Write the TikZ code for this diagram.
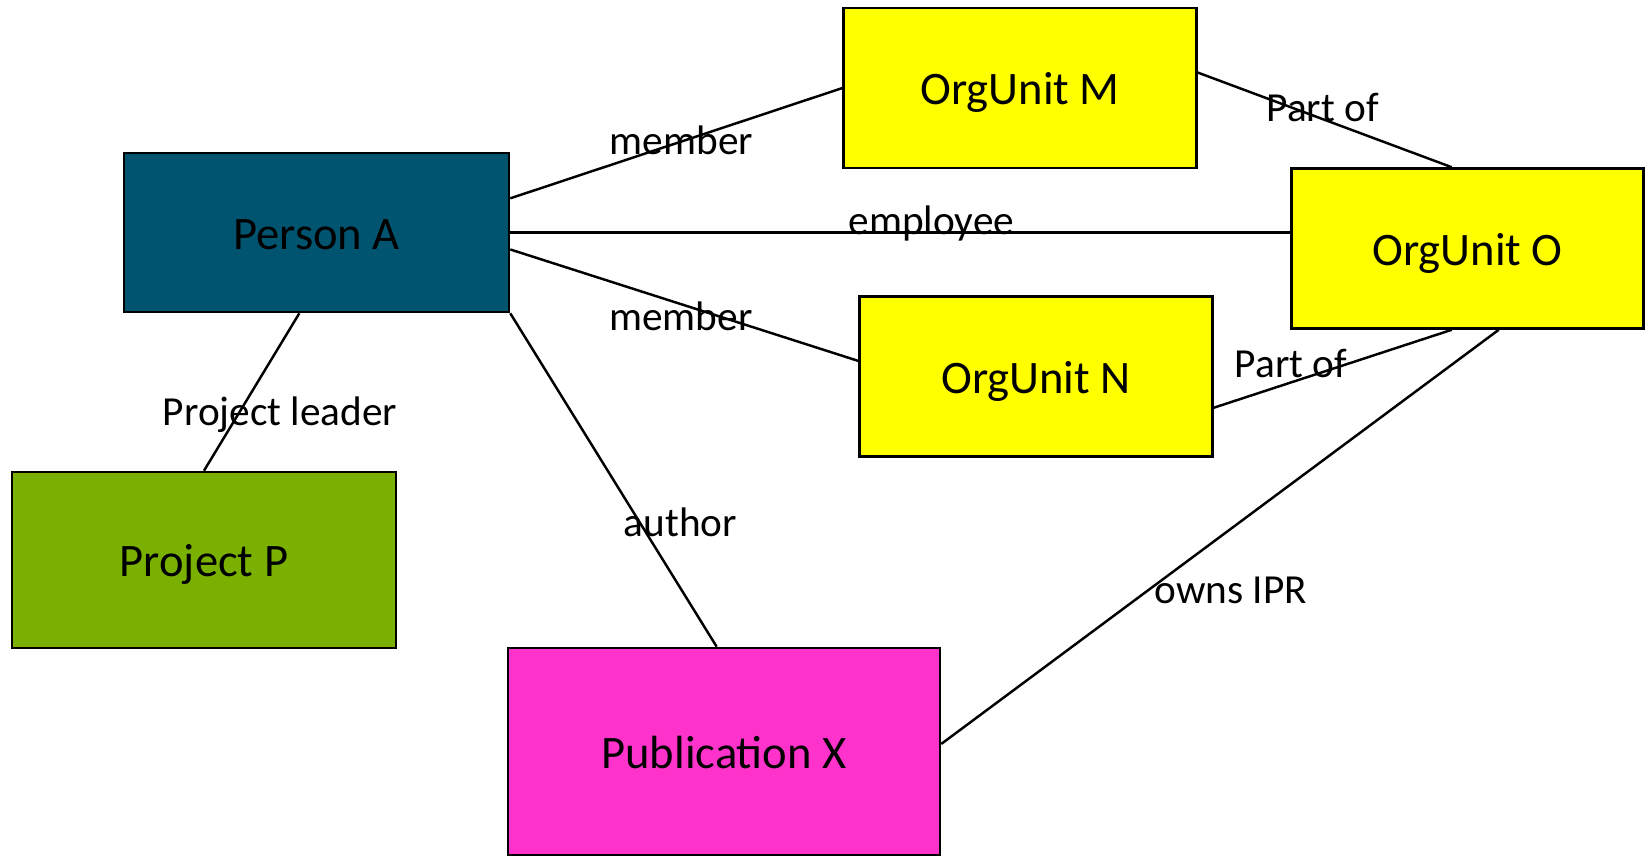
\documentclass[tikz,border=0pt]{standalone}
\usepackage{fontspec}
\setmainfont{Carlito}
\usepackage{tikz}
\definecolor{personteal}{RGB}{0,84,112}
\definecolor{orgyellow}{RGB}{255,255,0}
\definecolor{projgreen}{RGB}{122,176,0}
\definecolor{pubpink}{RGB}{255,51,204}
\tikzset{
  entity/.style      = {rectangle, draw=black, line width=1.5pt, align=center,
                        inner sep=0pt, text height=0.86cm, text depth=0.2cm,
                        font=\fontsize{26.5}{32}\selectfont},
  person/.style      = {entity, fill=personteal,
                        minimum width=7.7cm, minimum height=3.18cm},
  orgunit/.style     = {entity, fill=orgyellow,
                        minimum width=7.05cm, minimum height=3.2cm},
  project/.style     = {entity, fill=projgreen,
                        minimum width=7.68cm, minimum height=3.52cm},
  publication/.style = {entity, fill=pubpink,
                        minimum width=8.64cm, minimum height=4.14cm},
  link/.style        = {line width=1.4pt},
  edgelabel/.style   = {anchor=base, inner sep=0pt,
                        font=\fontsize{23.5}{28}\selectfont},
}

\begin{document}
\begin{tikzpicture}[x=0.02cm, y=-0.02cm]

    \useasboundingbox (0,0) rectangle (1646,856);

    % ── Entities ──────────────────────────────────────────────────
    \node[person]      (person)  at (316.5,232.5) {Person A};
    \node[orgunit]     (orgM)    at (1020,88)     {OrgUnit M};
    \node[orgunit]     (orgO)    at (1467.5,248.5){OrgUnit O};
    \node[orgunit]     (orgN)    at (1036,376.5)  {OrgUnit N};
    \node[project]     (project) at (204,560)     {Project P};
    \node[publication] (pub)     at (724,751.5)   {Publication X};

    % ── Relations ─────────────────────────────────────────────────
    \draw[link] (person.10)  -- node[edgelabel, pos=.515, yshift=-0.25cm]{member} (orgM.west);
    \draw[link] (person.east) -- node[edgelabel, pos=.54, yshift=-0.03cm]{employee} (person.east -| orgO.west);
    \draw[link] (person.-5)  -- node[edgelabel, pos=.49, yshift=-0.52cm]{member} (orgN.175);
    \draw[link] (person.-102) -- node[edgelabel, pos=.71, xshift=0.97cm]{Project leader} (project.north);
    \draw[link] (person.south east) -- node[edgelabel, pos=.67, xshift=0.64cm]{author} (pub.94);
    \draw[link] (orgM.5)     -- node[edgelabel, pos=.492, yshift=-0.05cm]{Part of} (orgO.101);
    \draw[link] (orgN.-10)   -- node[edgelabel, pos=.325, yshift=0.1cm]{Part of} (orgO.-101);
    \draw[link] (orgO.-69)   -- node[edgelabel, pos=.66, xshift=2.0cm]{owns IPR} (pub.2);

  \end{tikzpicture}
\end{document}
